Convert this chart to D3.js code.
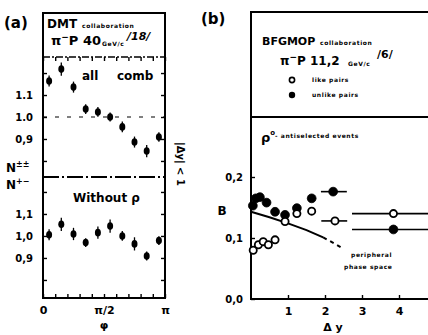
<!DOCTYPE html>
<html>
<head>
<meta charset="utf-8">
<script src="https://cdn.jsdelivr.net/npm/d3@7"></script>
<style>
  body { margin: 0; background: #fff; }
  text { font-family: "DejaVu Sans", sans-serif; font-weight: bold; fill: #000; }
  .small { font-size: 6px; letter-spacing: 0.6px; }
  .tick text { font-size: 10px; font-weight: bold; }
</style>
</head>
<body>
<svg></svg>
<script>
// panel (a): phi bins, in units of pi
var phiCenters = [0.05, 0.15, 0.25, 0.35, 0.45, 0.55, 0.65, 0.75, 0.85, 0.95];
var allComb    = [1.164, 1.218, 1.136, 1.036, 1.023, 1.000, 0.955, 0.886, 0.845, 0.909];
var allCombErr = [0.025, 0.030, 0.025, 0.022, 0.022, 0.020, 0.024, 0.025, 0.028, 0.022];
var withoutRho    = [1.005, 1.053, 1.009, 0.970, 1.015, 1.045, 1.000, 0.964, 0.909, 0.979];
var withoutRhoErr = [0.025, 0.030, 0.028, 0.020, 0.028, 0.030, 0.022, 0.030, 0.020, 0.020];
var phiTicks = [0, 0.1, 0.2, 0.3, 0.4, 0.5, 0.6, 0.7, 0.8, 0.9, 1];
var phiLabels = { 0: "0", 0.5: "π/2", 1: "π" };
var ratioTicks = [0.8, 0.9, 1.0, 1.1, 1.2];
var ratioLabelsTop = { "0.9": "0,9", "1": "1.0", "1.1": "1.1" };
var ratioLabelsBot = { "0.9": "0,9", "1": "1,0", "1.1": "1,1" };

// panel (b): B vs delta y
var likeDy = [0.06, 0.20, 0.33, 0.47, 0.65, 0.92, 1.24, 1.64, 2.27, 3.85];
var likeB  = [0.080, 0.089, 0.094, 0.089, 0.097, 0.127, 0.140, 0.144, 0.128, 0.140];
var likeLo = [null, null, null, null, null, null, null, null, 1.90, 2.73];
var likeHi = [null, null, null, null, null, null, null, null, 2.60, 5.00];
var unlikeDy = [0.05, 0.13, 0.24, 0.42, 0.65, 0.92, 1.24, 1.64, 2.22, 3.85];
var unlikeB  = [0.153, 0.165, 0.167, 0.158, 0.143, 0.138, 0.149, 0.165, 0.176, 0.114];
var unlikeLo = [null, null, null, null, null, null, null, null, 1.89, 2.73];
var unlikeHi = [null, null, null, null, null, null, null, null, 2.59, 5.00];
var phaseDy = [0, 0.5, 1.0, 1.5, 1.95];
var phaseB  = [0.143, 0.134, 0.124, 0.113, 0.101];
var phaseDashDy = [1.95, 2.25, 2.5];
var phaseDashB  = [0.101, 0.091, 0.082];
var dyTicks = [1, 2, 3, 4];
var bTicks = [0, 0.1, 0.2];
var bLabels = { "0": "0,0", "0.1": "0,1", "0.2": "0,2" };

var svg = d3.select("svg").attr("width", 428).attr("height", 335);
svg.append("rect").attr("width", 428).attr("height", 335).attr("fill", "#fff");

// ---------- panel (a) ----------
var ax = d3.scaleLinear().domain([0, 1]).range([43, 165]);
var ayTop = d3.scaleLinear().domain([0.727, 1.273]).range([177, 57]);
var ayBot = d3.scaleLinear().domain([0.718, 1.268]).range([298, 177]);

var ga = svg.append("g");

ga.append("rect")
  .attr("x", 43).attr("y", 13).attr("width", 122).attr("height", 285)
  .attr("fill", "none").attr("stroke", "#000").attr("stroke-width", 2);

// header separator and middle separator
ga.append("line")
  .attr("x1", 43).attr("x2", 165).attr("y1", ayTop.range()[1]).attr("y2", ayTop.range()[1])
  .attr("stroke", "#000").attr("stroke-width", 1.6).attr("stroke-dasharray", "7,2,2,2");
ga.append("line")
  .attr("x1", 43).attr("x2", 165).attr("y1", ayBot.range()[1]).attr("y2", ayBot.range()[1])
  .attr("stroke", "#000").attr("stroke-width", 1.8).attr("stroke-dasharray", "16,3,2,3");

// dashed reference at 1.0 in the upper part
ga.append("line")
  .attr("x1", 43).attr("x2", 165).attr("y1", ayTop(1)).attr("y2", ayTop(1))
  .attr("stroke", "#000").attr("stroke-width", 1.2).attr("stroke-dasharray", "4,8");

function stripDomain(g) { g.select(".domain").remove(); g.selectAll(".tick line").attr("stroke-width", 1.4); }

ga.append("g").attr("transform", "translate(43,0)")
  .call(d3.axisLeft(ayTop).tickValues(ratioTicks).tickSize(-4).tickPadding(10)
    .tickFormat(function(d) { return ratioLabelsTop[+d.toFixed(1)] || ""; }))
  .call(stripDomain);
ga.append("g").attr("transform", "translate(43,0)")
  .call(d3.axisLeft(ayBot).tickValues(ratioTicks).tickSize(-4).tickPadding(10)
    .tickFormat(function(d) { return ratioLabelsBot[+d.toFixed(1)] || ""; }))
  .call(stripDomain);
ga.append("g").attr("transform", "translate(165,0)")
  .call(d3.axisRight(ayTop).tickValues(ratioTicks).tickSize(-4).tickFormat(""))
  .call(stripDomain);
ga.append("g").attr("transform", "translate(165,0)")
  .call(d3.axisRight(ayBot).tickValues(ratioTicks).tickSize(-4).tickFormat(""))
  .call(stripDomain);
ga.append("g").attr("transform", "translate(0,298)")
  .call(d3.axisBottom(ax).tickValues(phiTicks).tickSize(-4).tickPadding(8)
    .tickFormat(function(d) { return phiLabels[d] || ""; }))
  .call(stripDomain)
  .selectAll(".tick text").style("font-size", "11px");
ga.append("g").attr("transform", "translate(0," + ayTop.range()[1] + ")")
  .call(d3.axisBottom(ax).tickValues(phiTicks).tickSize(4).tickFormat(""))
  .call(stripDomain);

function drawPoints(g, ys, vals, errs) {
  var pts = g.selectAll(null).data(vals).enter().append("g");
  pts.append("line")
    .attr("x1", function(d, i) { return ax(phiCenters[i]); })
    .attr("x2", function(d, i) { return ax(phiCenters[i]); })
    .attr("y1", function(d, i) { return ys(d + errs[i]); })
    .attr("y2", function(d, i) { return ys(d - errs[i]); })
    .attr("stroke", "#000").attr("stroke-width", 1.3);
  pts.append("ellipse")
    .attr("cx", function(d, i) { return ax(phiCenters[i]); })
    .attr("cy", function(d) { return ys(d); })
    .attr("rx", 3).attr("ry", 3.8).attr("fill", "#000");
}
drawPoints(ga, ayTop, allComb, allCombErr);
drawPoints(ga, ayBot, withoutRho, withoutRhoErr);

ga.append("text").attr("x", 4).attr("y", 28).style("font-size", "15px").text("(a)");
ga.append("text").attr("x", 47).attr("y", 28).style("font-size", "12px").text("DMT");
ga.append("text").attr("class", "small").attr("x", 82).attr("y", 28).text("collaboration");
var t1 = ga.append("text").attr("x", 51).attr("y", 45).style("font-size", "13px");
t1.append("tspan").text("π");
t1.append("tspan").attr("dy", -5).style("font-size", "9px").text("−");
t1.append("tspan").attr("dy", 5).text("P 40");
ga.append("text").attr("class", "small").attr("x", 102).attr("y", 46).text("GeV/c");
ga.append("text").attr("x", 127).attr("y", 40).style("font-size", "11px")
  .style("font-style", "italic").text("/18/");
ga.append("text").attr("x", 82).attr("y", 80).style("font-size", "12px").text("all");
ga.append("text").attr("x", 117).attr("y", 80).style("font-size", "12px").text("comb");
ga.append("text").attr("x", 73).attr("y", 202).style("font-size", "12px").text("Without ρ");
ga.append("text").attr("x", 104).attr("y", 329).attr("text-anchor", "middle")
  .style("font-size", "11px").text("φ");

var nt = ga.append("text").attr("x", 6).attr("y", 172).style("font-size", "12px");
nt.append("tspan").text("N");
nt.append("tspan").attr("dy", -5).style("font-size", "8px").text("±±");
var nb = ga.append("text").attr("x", 6).attr("y", 189).style("font-size", "12px");
nb.append("tspan").text("N");
nb.append("tspan").attr("dy", -5).style("font-size", "8px").text("+−");

ga.append("text").attr("transform", "translate(177,142) rotate(90)")
  .style("font-size", "10px").text("|Δy| < 1");

// ---------- panel (b) ----------
var bx = d3.scaleLinear().domain([0, 5]).range([251, 436]);
var by = d3.scaleLinear().domain([0, 0.3]).range([299, 116]);

var gb = svg.append("g");
gb.append("line").attr("x1", 251).attr("x2", 251).attr("y1", 12).attr("y2", 300)
  .attr("stroke", "#000").attr("stroke-width", 2);
gb.append("line").attr("x1", 250).attr("x2", 430).attr("y1", 12).attr("y2", 12)
  .attr("stroke", "#000").attr("stroke-width", 2);
gb.append("line").attr("x1", 251).attr("x2", 430).attr("y1", 117).attr("y2", 117)
  .attr("stroke", "#000").attr("stroke-width", 1.8);
gb.append("line").attr("x1", 250).attr("x2", 430).attr("y1", by(0)).attr("y2", by(0))
  .attr("stroke", "#000").attr("stroke-width", 2);

gb.append("g").attr("transform", "translate(251,0)")
  .call(d3.axisLeft(by).tickValues(bTicks).tickSize(-4).tickPadding(8)
    .tickFormat(function(d) { return bLabels[+d.toFixed(1)]; }))
  .call(stripDomain);
gb.append("g").attr("transform", "translate(0," + by(0) + ")")
  .call(d3.axisBottom(bx).tickValues(dyTicks).tickSize(-4).tickPadding(8)
    .tickFormat(d3.format("d")))
  .call(stripDomain)
  .selectAll(".tick text").style("font-size", "11px");

var line = d3.line()
  .x(function(d) { return bx(d[0]); })
  .y(function(d) { return by(d[1]); });
gb.append("path").datum(d3.zip(phaseDy, phaseB)).attr("d", line)
  .attr("fill", "none").attr("stroke", "#000").attr("stroke-width", 2);
gb.append("path").datum(d3.zip(phaseDashDy, phaseDashB)).attr("d", line)
  .attr("fill", "none").attr("stroke", "#000").attr("stroke-width", 2)
  .attr("stroke-dasharray", "4,4");

function drawPairs(xs, ys, lo, hi, open) {
  var g = gb.append("g");
  xs.forEach(function(x, i) {
    if (lo[i] != null) {
      g.append("line").attr("x1", bx(lo[i])).attr("x2", bx(hi[i]))
        .attr("y1", by(ys[i])).attr("y2", by(ys[i]))
        .attr("stroke", "#000").attr("stroke-width", 1.6);
    }
  });
  g.selectAll("circle").data(xs).enter().append("circle")
    .attr("cx", function(d) { return bx(d); })
    .attr("cy", function(d, i) { return by(ys[i]); })
    .attr("r", open ? 3.6 : 4.4)
    .attr("fill", open ? "#fff" : "#000")
    .attr("stroke", "#000").attr("stroke-width", open ? 1.8 : 0.8);
}
drawPairs(unlikeDy, unlikeB, unlikeLo, unlikeHi, false);
drawPairs(likeDy, likeB, likeLo, likeHi, true);

gb.append("text").attr("x", 201).attr("y", 24).style("font-size", "15px").text("(b)");
gb.append("text").attr("x", 262).attr("y", 45).style("font-size", "11px").text("BFGMOP");
gb.append("text").attr("class", "small").attr("x", 320).attr("y", 45).text("collaboration");
var t2 = gb.append("text").attr("x", 280).attr("y", 65).style("font-size", "12px");
t2.append("tspan").text("π");
t2.append("tspan").attr("dy", -5).style("font-size", "9px").text("−");
t2.append("tspan").attr("dy", 5).text("P  11,2");
gb.append("text").attr("class", "small").attr("x", 348).attr("y", 66).text("GeV/c");
gb.append("text").attr("x", 377).attr("y", 58).style("font-size", "11px").text("/6/");
gb.append("circle").attr("cx", 292).attr("cy", 80).attr("r", 2.6)
  .attr("fill", "#fff").attr("stroke", "#000").attr("stroke-width", 1.6);
gb.append("text").attr("class", "small").attr("x", 312).attr("y", 82).text("like pairs");
gb.append("circle").attr("cx", 292).attr("cy", 95).attr("r", 3.2).attr("fill", "#000");
gb.append("text").attr("class", "small").attr("x", 312).attr("y", 97).text("unlike pairs");
var t3 = gb.append("text").attr("x", 261).attr("y", 142).style("font-size", "13px");
t3.append("tspan").text("ρ");
t3.append("tspan").attr("dy", -7).style("font-size", "7px").text("o");
gb.append("text").attr("class", "small").attr("x", 275).attr("y", 138)
  .text("- antiselected   events");
gb.append("text").attr("x", 222).attr("y", 215).attr("text-anchor", "middle")
  .style("font-size", "12px").text("B");
gb.append("text").attr("class", "small").attr("x", 351).attr("y", 257).text("peripheral");
gb.append("text").attr("class", "small").attr("x", 344).attr("y", 269).text("phase  space");
gb.append("text").attr("x", 333).attr("y", 331).attr("text-anchor", "middle")
  .style("font-size", "11px").text("Δ y");
</script>
</body>
</html>
